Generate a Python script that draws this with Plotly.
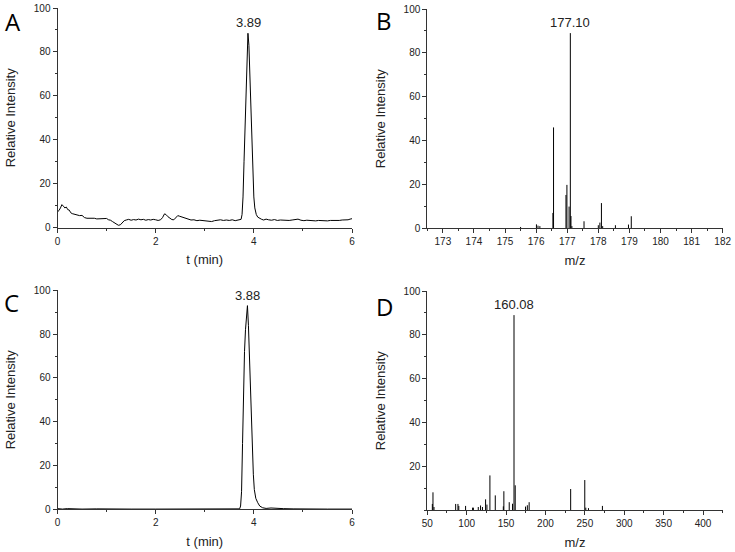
import plotly.graph_objects as go

# panel A - chromatogram (sample)
t_a = [0.00, 0.03, 0.06, 0.09, 0.12, 0.15, 0.18, 0.21, 0.24, 0.27, 0.30, 0.35, 0.40, 0.45,
       0.50, 0.55, 0.60, 0.65, 0.70, 0.75, 0.80, 0.85, 0.90, 0.95, 1.00, 1.04, 1.08, 1.12,
       1.16, 1.20, 1.24, 1.28, 1.32, 1.36, 1.40, 1.45, 1.50, 1.55, 1.60, 1.65, 1.70, 1.75,
       1.80, 1.85, 1.90, 1.95, 2.00, 2.05, 2.10, 2.14, 2.18, 2.21, 2.25, 2.29, 2.33, 2.37,
       2.41, 2.45, 2.49, 2.53, 2.57, 2.62, 2.67, 2.72, 2.78, 2.84, 2.90, 2.96, 3.02, 3.08,
       3.14, 3.20, 3.26, 3.32, 3.38, 3.44, 3.50, 3.56, 3.62, 3.68, 3.72, 3.74, 3.76, 3.78,
       3.80, 3.82, 3.84, 3.86, 3.88, 3.90, 3.92, 3.94, 3.96, 3.98, 4.00, 4.02, 4.05, 4.08,
       4.12, 4.16, 4.20, 4.25, 4.30, 4.36, 4.42, 4.48, 4.54, 4.60, 4.66, 4.72, 4.78, 4.84,
       4.90, 4.96, 5.02, 5.08, 5.14, 5.20, 5.26, 5.32, 5.38, 5.44, 5.50, 5.56, 5.62, 5.68,
       5.74, 5.80, 5.86, 5.92, 5.96, 6.00]
i_a = [7.2, 7.8, 9.0, 10.5, 9.8, 9.0, 9.4, 8.2, 8.0, 6.8, 6.4, 6.0, 5.9, 5.5,
       5.6, 4.6, 4.3, 4.4, 4.2, 4.3, 4.0, 4.1, 3.9, 4.0, 4.2, 3.6, 3.4, 2.8,
       2.2, 1.5, 1.1, 1.3, 2.4, 3.2, 3.5, 3.8, 3.4, 3.7, 3.5, 3.9, 3.6, 3.8,
       3.4, 3.7, 3.5, 3.8, 3.6, 3.3, 3.6, 4.6, 6.3, 6.0, 5.0, 4.4, 3.7, 3.6,
       4.5, 5.5, 5.2, 4.9, 4.3, 4.0, 3.6, 3.5, 3.6, 3.2, 3.4, 3.3, 3.1, 3.0,
       2.8, 3.2, 3.4, 3.6, 3.3, 3.5, 3.3, 3.6, 3.2, 3.4, 3.5, 3.8, 6.0, 14.0,
       30.0, 48.0, 66.0, 82.0, 88.5, 83.0, 69.0, 52.0, 36.0, 23.0, 14.0, 9.0, 6.0, 4.8,
       4.1, 3.8, 3.5, 3.9, 3.6, 3.4, 3.7, 3.3, 3.5, 3.4, 3.6, 3.3, 3.5, 3.7,
       3.9, 3.4, 3.2, 3.4, 3.2, 3.3, 3.1, 3.3, 3.2, 3.4, 3.1, 3.3, 3.2, 3.4,
       3.3, 3.5, 3.4, 3.6, 3.9, 4.1]

# panel C - chromatogram (standard)
t_c = [0.00, 0.10, 0.20, 0.30, 0.50, 0.80, 1.00, 1.50, 2.00, 2.50, 2.80, 3.00, 3.50, 3.71,
       3.73, 3.75, 3.77, 3.79, 3.81, 3.83, 3.85, 3.87, 3.89, 3.91, 3.93, 3.95, 3.97, 3.99,
       4.01, 4.04, 4.08, 4.12, 4.18, 4.25, 4.35, 4.45, 4.60, 4.80, 5.00, 5.50, 6.00]
i_c = [0.3, 0.1, 0.3, 0.2, 0.1, 0.2, 0.1, 0.1, 0.1, 0.1, 0.3, 0.1, 0.1, 0.2,
       1.5, 8.0, 30.0, 55.0, 72.0, 82.0, 88.0, 93.0, 84.0, 70.0, 55.0, 40.0, 26.0, 16.0,
       9.0, 5.0, 3.0, 1.5, 0.7, 0.4, 0.6, 0.4, 0.3, 0.2, 0.1, 0.1, 0.1]

# panel B - mass spectrum (sample)
mz_b = [175.50, 176.01, 176.06, 176.12, 176.54, 176.56, 176.96, 176.99, 177.06, 177.10,
        177.12, 177.15, 177.54, 178.00, 178.05, 178.10, 178.14, 178.55, 178.97, 179.06]
int_b = [0.6, 1.8, 1.2, 1.0, 7.0, 46.0, 15.2, 19.8, 9.9, 89.0,
         5.6, 1.0, 3.2, 1.4, 2.6, 11.5, 1.0, 1.4, 1.7, 5.5]

# panel D - mass spectrum (standard)
mz_d = [56.4, 57.2, 58.5, 86.0, 88.9, 90.0, 98.6, 107.5, 108.5, 114.7, 117.6, 120.0,
        124.0, 125.7, 129.5, 136.3, 146.5, 147.2, 154.0, 158.2, 160.08, 161.6, 174.7,
        177.0, 179.3, 232.0, 249.9, 251.2, 254.6, 272.3]
int_d = [2.9, 8.2, 1.5, 2.9, 2.9, 2.0, 2.0, 1.2, 1.2, 1.5, 2.2, 1.5,
         5.0, 2.6, 15.9, 6.8, 1.8, 8.7, 3.7, 3.0, 89.0, 11.4, 1.7,
         2.3, 3.7, 9.7, 13.8, 1.2, 1.0, 2.0]

W, H = 735, 552
FONT = "Liberation Sans, Arial, sans-serif"


def sticks(mz, inten):
    xs, ys = [], []
    for m, h in zip(mz, inten):
        xs += [m, m, None]
        ys += [0, h, None]
    return xs, ys


def px(x0, x1):
    return [x0 / W, x1 / W]


def py(top, bottom):
    return [1 - bottom / H, 1 - top / H]


fig = go.Figure()
line = dict(color="black", width=1)

fig.add_trace(go.Scatter(x=t_a, y=i_a, mode="lines", line=line, xaxis="x", yaxis="y"))
xb, yb = sticks(mz_b, int_b)
fig.add_trace(go.Scatter(x=xb, y=yb, mode="lines", line=line, xaxis="x2", yaxis="y2"))
fig.add_trace(go.Scatter(x=t_c, y=i_c, mode="lines", line=line, xaxis="x3", yaxis="y3"))
xd, yd = sticks(mz_d, int_d)
fig.add_trace(go.Scatter(x=xd, y=yd, mode="lines", line=line, xaxis="x4", yaxis="y4"))

axis = dict(showline=True, linecolor="#333", linewidth=1, ticks="outside", ticklen=4,
            tickcolor="#333", showgrid=False, zeroline=False,
            tickfont=dict(family=FONT, size=10, color="#222"),
            title_font=dict(family=FONT, size=13, color="#222"), automargin=False)


def xax(domain, rng, dtick, minor, title, anchor, tick0=0):
    return dict(axis, domain=domain, range=rng, dtick=dtick, tick0=tick0, anchor=anchor,
                minor=dict(dtick=minor, ticks="outside", ticklen=2, tickcolor="#333"),
                title=dict(text=title, standoff=9))


def yax(domain, anchor, tickvals=None):
    d = dict(axis, domain=domain, range=[0, 100], dtick=20, anchor=anchor,
             minor=dict(dtick=10, ticks="outside", ticklen=2, tickcolor="#333"),
             title=dict(text="Relative Intensity", standoff=15))
    if tickvals is not None:
        d["tickvals"] = tickvals
    return d


fig.update_layout(
    width=W, height=H, showlegend=False,
    paper_bgcolor="white", plot_bgcolor="white",
    margin=dict(l=0, r=0, t=0, b=0),
    xaxis=xax(px(57.5, 352), [0, 6], 2, 1, "t (min)", "y"),
    yaxis=yax(py(8, 227.7), "x"),
    xaxis2=xax(px(427.3, 722.7), [172.5, 182], 1, 0.5, "m/z", "y2"),
    yaxis2=yax(py(9, 228.3), "x2"),
    xaxis3=xax(px(57.5, 352), [0, 6], 2, 1, "t (min)", "y3"),
    yaxis3=yax(py(290.3, 509.3), "x3"),
    xaxis4=xax(px(427.3, 722.7), [50, 425], 50, 25, "m/z", "y4"),
    yaxis4=yax(py(291, 510.3), "x4", tickvals=[20, 40, 60, 80, 100]),
)

# peak labels
peaks = [("x", "y", 3.89, 88.5, "3.89"), ("x2", "y2", 177.10, 89.0, "177.10"),
         ("x3", "y3", 3.88, 93.0, "3.88"), ("x4", "y4", 160.08, 89.0, "160.08")]
for xr, yr, xv, yv, txt in peaks:
    fig.add_annotation(x=xv, y=yv, xref=xr, yref=yr, text=txt, showarrow=False,
                       yanchor="bottom", yshift=1,
                       font=dict(family=FONT, size=13, color="#222"))

# panel letters
letters = [("A", 13, 22), ("B", 383.5, 20), ("C", 11.5, 302.5), ("D", 384, 306)]
for txt, lx, ly in letters:
    fig.add_annotation(x=lx / W, y=1 - ly / H, xref="paper", yref="paper", text=txt,
                       showarrow=False, xanchor="center", yanchor="middle",
                       font=dict(family="Open Sans", size=24, color="black"))

# drop the default page margin so the figure sits at the window's corner
fig.write_html("out.html", config={"displayModeBar": False},
               post_script="document.body.style.margin='0';")
